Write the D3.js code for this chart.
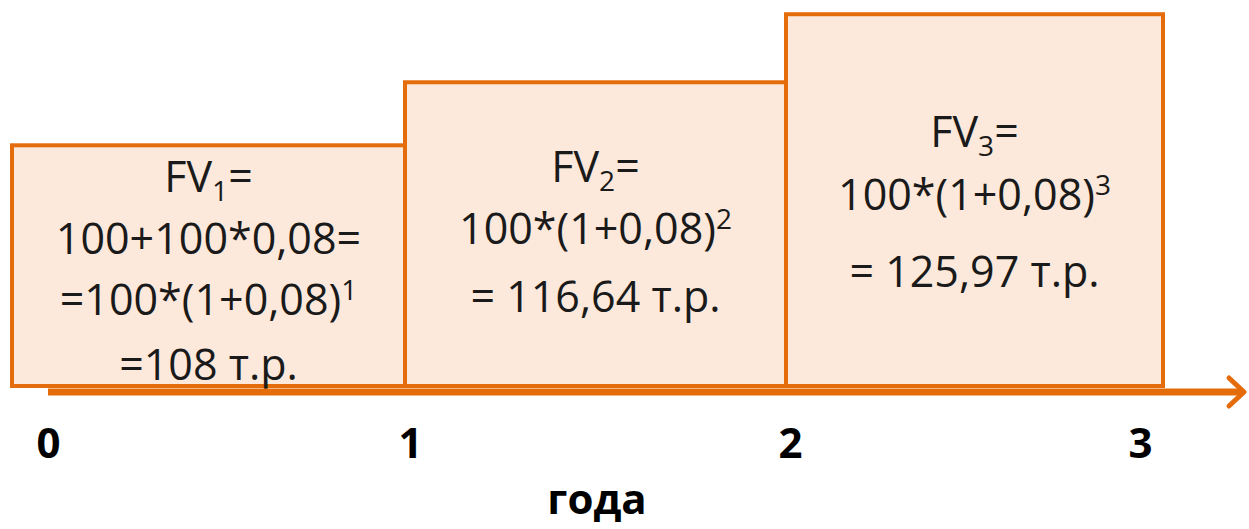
<!DOCTYPE html>
<html>
<head>
<meta charset="utf-8">
<script src="https://cdn.jsdelivr.net/npm/d3@7"></script>
<style>
  body { margin: 0; background: #fff; }
  svg { display: block; }
</style>
</head>
<body>
<div id="container"></div>
<script>
/* DATA */
const years = [0, 1, 2, 3];
const fvValues = [108, 116.64, 125.97];
const axisTitle = "года";

// text of each box: a line is a list of [text, kind] parts, kind = "sub" | "sup"
const box1Lines = [
  [["FV"], ["1", "sub"], ["="]],
  [["100+100*0,08="]],
  [["=100*(1+0,08)"], ["1", "sup"]],
  [["=108 т.р."]]
];
const box2Lines = [
  [["FV"], ["2", "sub"], ["="]],
  [["100*(1+0,08)"], ["2", "sup"]],
  [["= 116,64 т.р."]]
];
const box3Lines = [
  [["FV"], ["3", "sub"], ["="]],
  [["100*(1+0,08)"], ["3", "sup"]],
  [["= 125,97 т.р."]]
];

/* CONSTANTS AND GLOBALS */
const width = 1249;
const height = 529;
const orange = "#e46c0a";
const fill = "#fde9db";
const font = "'Open Sans', sans-serif";
const axisY = 392;

// baselines of the text lines, measured down from the top of each box
const lineOffsets = [[47, 109, 170, 235], [100, 162, 230], [133, 196, 273]];
const boxes = [box1Lines, box2Lines, box3Lines];

const svg = d3.select("#container")
  .append("svg")
  .attr("width", width)
  .attr("height", height);

/* SCALES */
// the boxes in the picture are not quite equal in width
const xScale = d3.scaleLinear()
  .domain(years)
  .range([12, 405, 786, 1163]);

const yScale = d3.scaleLinear()
  .domain([75, 126])
  .range([386, 14]);

// tick label positions
const labelScale = d3.scaleLinear()
  .domain(years)
  .range([48, 410, 790, 1140]);

const data = fvValues.map((v, i) => ({ from: years[i], to: years[i + 1], value: v, lines: boxes[i], offs: lineOffsets[i] }));

/* BOXES */
svg.selectAll(".box")
  .data(data)
  .join("rect")
  .attr("class", "box")
  .attr("x", d => xScale(d.from))
  .attr("y", d => yScale(d.value))
  .attr("width", d => xScale(d.to) - xScale(d.from))
  .attr("height", d => yScale.range()[0] - yScale(d.value))
  .attr("fill", fill)
  .attr("stroke", orange)
  .attr("stroke-width", 4);

/* TEXT IN BOXES */
data.forEach(d => {
  const cx = (xScale(d.from) + xScale(d.to)) / 2;
  const top = yScale(d.value);
  d.lines.forEach((line, j) => {
    const t = svg.append("text")
      .attr("x", cx)
      .attr("y", top + d.offs[j])
      .attr("text-anchor", "middle")
      .attr("font-family", font)
      .attr("font-size", 43)
      .attr("fill", "#1a1a1a");
    let shift = 0;
    line.forEach(([txt, kind]) => {
      const s = t.append("tspan").text(txt);
      const target = kind === "sub" ? 9 : kind === "sup" ? -15 : 0;
      if (kind) s.attr("font-size", 28);
      if (target !== shift) s.attr("dy", target - shift);
      shift = target;
    });
  });
});

/* AXIS */
svg.append("line")
  .attr("x1", 48)
  .attr("x2", 1242)
  .attr("y1", axisY)
  .attr("y2", axisY)
  .attr("stroke", orange)
  .attr("stroke-width", 7);

svg.append("path")
  .attr("d", `M1229,378 L1244,${axisY} L1229,406`)
  .attr("fill", "none")
  .attr("stroke", orange)
  .attr("stroke-width", 5)
  .attr("stroke-linecap", "round")
  .attr("stroke-linejoin", "round");

const xAxis = d3.axisBottom(labelScale)
  .tickValues(years)
  .tickFormat(d3.format("d"))
  .tickSize(0);

const gAxis = svg.append("g")
  .attr("transform", `translate(0, ${axisY})`)
  .call(xAxis);
gAxis.select(".domain").remove();
gAxis.selectAll("text")
  .attr("y", 66)
  .attr("dy", 0)
  .attr("fill", "#000")
  .attr("font-family", font)
  .attr("font-weight", "bold")
  .attr("font-size", 42);

// axis title
svg.append("text")
  .attr("x", 597)
  .attr("y", 514)
  .attr("text-anchor", "middle")
  .attr("font-family", font)
  .attr("font-weight", "bold")
  .attr("font-size", 42)
  .attr("fill", "#000")
  .text(axisTitle);
</script>
</body>
</html>
